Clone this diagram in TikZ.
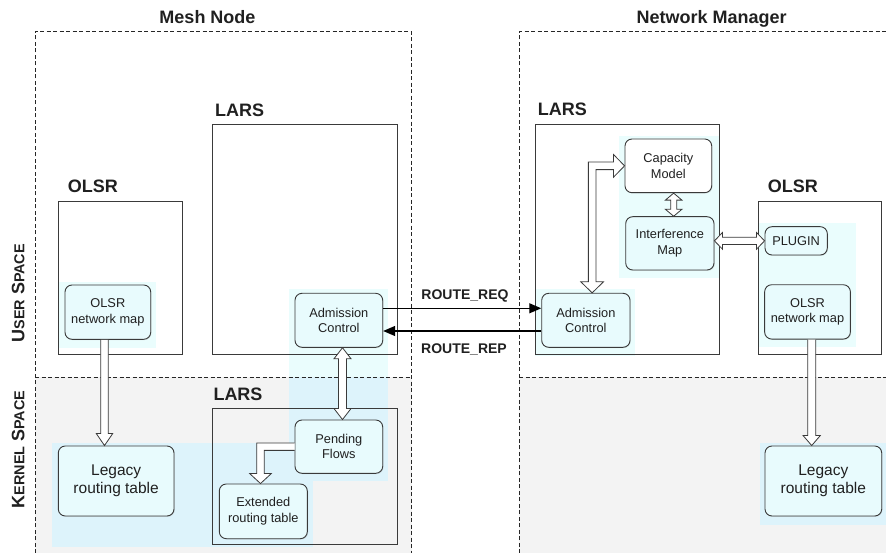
\documentclass[tikz,border=0pt]{standalone}
\usepackage{fontspec}
\setmainfont{Liberation Sans}
\usetikzlibrary{calc,arrows.meta,shadows}

\definecolor{edge}{HTML}{3A3A3A}
\definecolor{ink}{HTML}{202020}
\definecolor{cardfill}{HTML}{E8FBFD}
\definecolor{haloup}{HTML}{EAFDFD}
\definecolor{halodown}{HTML}{DDF3FB}
\definecolor{kernelgray}{HTML}{F3F3F3}

% hollow block arrows: #3 shaft half width, #4 head half width, #5 head length
\newcommand\blkdown[5]{%
  \draw[blk] let \p1=#1, \p2=#2 in
    (\x1-#3pt,\y1) -- (\x1-#3pt,\y2+#5pt) -- (\x1-#4pt,\y2+#5pt) -- (\x1,\y2)
    -- (\x1+#4pt,\y2+#5pt) -- (\x1+#3pt,\y2+#5pt) -- (\x1+#3pt,\y1);}
\newcommand\blkvboth[5]{%
  \draw[blk] let \p1=#1, \p2=#2 in
    (\x1,\y1) -- (\x1+#4pt,\y1-#5pt) -- (\x1+#3pt,\y1-#5pt) -- (\x1+#3pt,\y2+#5pt)
    -- (\x1+#4pt,\y2+#5pt) -- (\x1,\y2) -- (\x1-#4pt,\y2+#5pt) -- (\x1-#3pt,\y2+#5pt)
    -- (\x1-#3pt,\y1-#5pt) -- (\x1-#4pt,\y1-#5pt) -- cycle;}
\newcommand\blkhboth[5]{%
  \draw[blk] let \p1=#1, \p2=#2 in
    (\x1,\y2) -- (\x1+#5pt,\y2+#4pt) -- (\x1+#5pt,\y2+#3pt) -- (\x2-#5pt,\y2+#3pt)
    -- (\x2-#5pt,\y2+#4pt) -- (\x2,\y2) -- (\x2-#5pt,\y2-#4pt) -- (\x2-#5pt,\y2-#3pt)
    -- (\x1+#5pt,\y2-#3pt) -- (\x1+#5pt,\y2-#4pt) -- cycle;}
\newcommand\blkelbow[5]{%
  \draw[blk] let \p1=#1, \p2=#2 in
    (\x1,\y1+#3pt) -- (\x2-#3pt,\y1+#3pt) -- (\x2-#3pt,\y2+#5pt) -- (\x2-#4pt,\y2+#5pt)
    -- (\x2,\y2) -- (\x2+#4pt,\y2+#5pt) -- (\x2+#3pt,\y2+#5pt) -- (\x2+#3pt,\y1-#3pt)
    -- (\x1,\y1-#3pt);}
\newcommand\blkelbowboth[5]{%
  \draw[blk] let \p1=#1, \p2=#2 in
    (\x1,\y1) -- (\x1-#4pt,\y1+#5pt) -- (\x1-#3pt,\y1+#5pt) -- (\x1-#3pt,\y2+#3pt)
    -- (\x2-#5pt,\y2+#3pt) -- (\x2-#5pt,\y2+#4pt) -- (\x2,\y2) -- (\x2-#5pt,\y2-#4pt)
    -- (\x2-#5pt,\y2-#3pt) -- (\x1+#3pt,\y2-#3pt) -- (\x1+#3pt,\y1+#5pt)
    -- (\x1+#4pt,\y1+#5pt) -- cycle;}
\newcommand\scsmall{\fontsize{14.4}{16}\selectfont}

\begin{document}
\begin{tikzpicture}[x=1pt,y=-1pt,
  card/.style={draw=edge, line width=0.9pt, rounded corners=7pt, fill=cardfill,
    align=center, inner sep=0pt, text=ink, font=\fontsize{12.8}{15.5}\selectfont,
    drop shadow={shadow xshift=0.8pt, shadow yshift=-0.8pt, opacity=0.22}},
  bigcard/.style={card, font=\fontsize{15.5}{18}\selectfont},
  frame/.style={draw=edge, line width=0.8pt, inner sep=0pt, anchor=north west},
  title/.style={font=\bfseries\fontsize{18}{20}\selectfont, anchor=base west,
    inner sep=0pt, text=ink},
  heading/.style={font=\bfseries\fontsize{18}{20}\selectfont, anchor=base,
    inner sep=0pt, text=ink},
  zone/.style={draw=black!85, line width=0.8pt, dash pattern=on 4pt off 2.5pt},
  blk/.style={draw=edge, fill=white, line width=0.8pt, line join=miter},
  msg/.style={draw=black, line width=1.2pt},
  msglabel/.style={font=\bfseries\fontsize{14}{16}\selectfont, inner sep=0pt, text=ink}]

\useasboundingbox (0,0) rectangle (886,553);

% kernel space background
\fill[kernelgray] (35,377.3) rectangle (411.7,553);
\fill[kernelgray] (519.3,377.3) rectangle (886,553);

% light panels behind the components
\fill[haloup] (58.3,282.3) rectangle (156,347.7);
\fill[haloup] (289.3,289) rectangle (387.7,377.3);
\fill[halodown] (289.3,377.3) rectangle (387.7,480.7);
\fill[halodown] (51.7,443.3) rectangle (313.3,547.3);
\fill[haloup] (619.3,136) rectangle (719.3,278.3);
\fill[haloup] (535,289.3) rectangle (635,356);
\fill[haloup] (759.3,223.3) rectangle (856,346.7);
\fill[halodown] (760,442.7) rectangle (886,525);

% headings
\node[heading] (hmesh) at (207.5,23.3) {Mesh Node};
\node[heading] (hnm) at (711.7,23.3) {Network Manager};
\node[rotate=90, inner sep=0pt, text=ink, font=\bfseries\fontsize{18}{20}\selectfont]
  (user) at (18.3,293.3) {U{\scsmall SER} S{\scsmall PACE}};
\node[rotate=90, inner sep=0pt, text=ink, font=\bfseries\fontsize{18}{20}\selectfont]
  (kernel) at (18.3,449.5) {K{\scsmall ERNEL} S{\scsmall PACE}};

% process frames
\node[frame, minimum width=123.4pt, minimum height=153.3pt] (olsrA) at (58.3,200.7) {};
\node[frame, minimum width=185pt, minimum height=230pt] (larsA) at (211.7,124) {};
\node[frame, minimum width=184.4pt, minimum height=136pt] (larskA) at (212.3,408.3) {};
\node[frame, minimum width=184.3pt, minimum height=230.3pt] (larsB) at (535,124) {};
\node[frame, minimum width=123pt, minimum height=153.6pt] (olsrB) at (757.7,200.7) {};
\node[title] (tolsrA) at (67.7,192.7) {OLSR};
\node[title] (tlarsA) at (215,116.7) {LARS};
\node[title] (tlarskA) at (213.3,400) {LARS};
\node[title] (tlarsB) at (537.7,116) {LARS};
\node[title] (tolsrB) at (767.7,192.7) {OLSR};

% space boundaries
\draw[zone] (35,553) -- (35,31.7) -- (411.7,31.7) -- (411.7,553);
\draw[zone] (35,377.3) -- (411.7,377.3);
\draw[zone] (519.3,553) -- (519.3,31.7) -- (886,31.7);
\draw[zone] (519.3,377.3) -- (886,377.3);

% components
\node[card, minimum width=85.7pt, minimum height=54.3pt] (mapA) at (107.85,312.15) {OLSR\\network map};
\node[bigcard, minimum width=115.7pt, minimum height=70pt] (legacyA) at (116.15,481) {Legacy\\routing table};
\node[card, minimum width=87.7pt, minimum height=54pt] (acA) at (338.85,320.3) {Admission\\Control};
\node[card, minimum width=87.7pt, minimum height=53.3pt] (pfA) at (338.85,446.65) {Pending\\Flows};
\node[card, minimum width=88pt, minimum height=54.7pt] (extA) at (263.3,511.35) {Extended\\routing table};

\node[card, minimum width=88.3pt, minimum height=54pt] (acB) at (585.85,320.3) {Admission\\Control};
\node[card, fill=white, minimum width=86.7pt, minimum height=53.7pt] (capB) at (668.35,165.85) {Capacity\\Model};
\node[card, minimum width=88.3pt, minimum height=53.3pt] (intB) at (669.85,243.35) {Interference\\Map};
\node[card, minimum width=62.3pt, minimum height=28.3pt] (plugB) at (796.15,240.85) {PLUGIN};
\node[card, minimum width=85.7pt, minimum height=54.3pt] (mapB) at (807.5,311.9) {OLSR\\network map};
\node[bigcard, minimum width=116.7pt, minimum height=70pt] (legacyB) at (823.35,481) {Legacy\\routing table};

% block arrows
\blkdown{($(mapA.south)+(-3.35,0)$)}{(legacyA.north)}{3.8}{8.2}{12}
\blkvboth{($(acA.south)+(3.65,0)$)}{(pfA.north)}{4}{8.5}{11}
\blkelbow{(pfA.west)}{($(extA.north)+(-2.8,0)$)}{3.7}{10.8}{10}
\blkelbowboth{($(acB.north)+(6.3,0)$)}{(capB.west)}{3.8}{11.3}{11}
\blkvboth{($(capB.south)+(5.3,0)$)}{(intB.north)}{3}{8.3}{7}
\blkhboth{(intB.east)}{(plugB.west)}{3.6}{8.3}{8}
\blkdown{($(mapB.south)+(4.2,0)$)}{(legacyB.north)}{4}{8.6}{10}

% signalling between mesh node and manager
\draw[msg, -{Triangle[length=12pt,width=10pt]}]
  ([yshift=12pt]acA.east) -- ([yshift=12pt]acA.east -| acB.west)
  node[msglabel, midway, yshift=12.3pt, xshift=2.8pt] {ROUTE\_REQ};
\draw[msg, -{Triangle[length=12pt,width=10pt]}]
  ([yshift=-10.7pt]acA.east -| acB.west) -- ([yshift=-10.7pt]acA.east)
  node[msglabel, midway, yshift=-18pt, xshift=1.8pt] {ROUTE\_REP};

\end{tikzpicture}
\end{document}
